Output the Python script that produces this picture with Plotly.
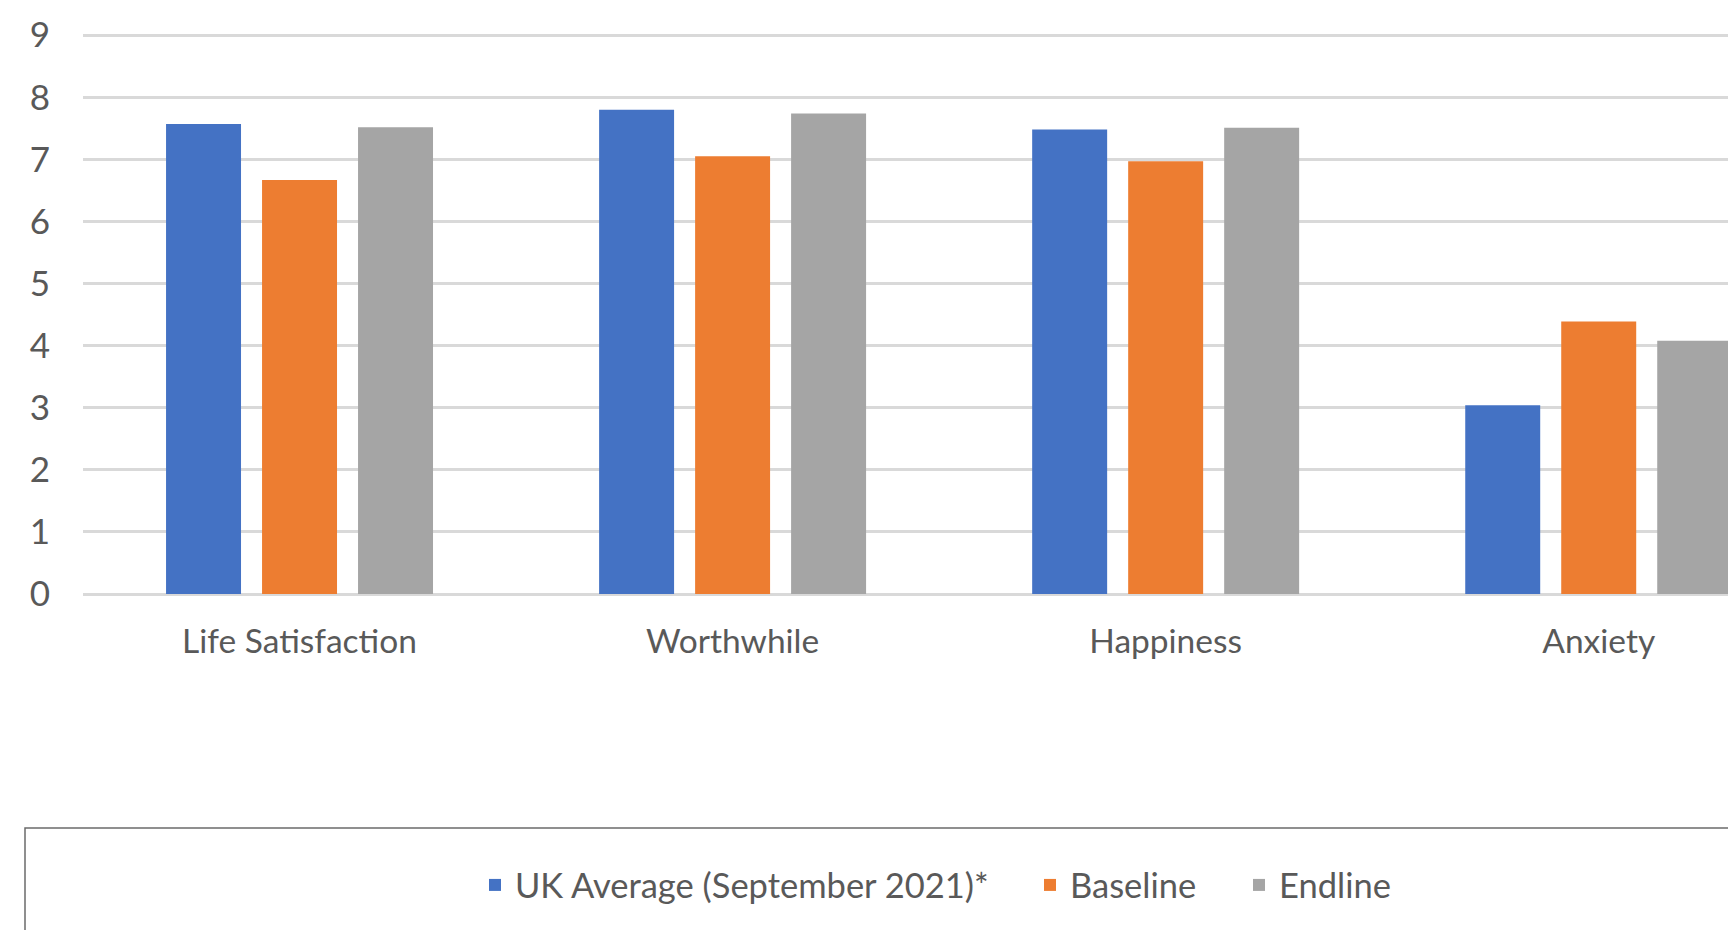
import plotly.graph_objects as go

categories = ["Life Satisfaction", "Worthwhile", "Happiness", "Anxiety"]
series_names = ["UK Average (September 2021)*", "Baseline", "Endline"]
uk_average = [7.57, 7.80, 7.48, 3.04]
baseline = [6.67, 7.05, 6.97, 4.39]
endline = [7.52, 7.74, 7.51, 4.08]
y_ticks = [0, 1, 2, 3, 4, 5, 6, 7, 8, 9]

colors = ["#4472C4", "#ED7D31", "#A5A5A5"]
FONT = "Lato"
TXT = "#595959"

# page body has an 8px margin; figure sized to fit the window without scrolling
OFF = 8
W, H = 1736 - OFF, 938 - 2 * OFF
ZERO_Y = 594  # window px of the zero line
ML, MR, MT = 83 - OFF, 0, 34 - OFF
MB = H - (ZERO_Y - OFF)
PW = W - ML - MR
PH = H - MT - MB

def px_x(p):  # p: window px
    return (p - OFF - ML) / PW

def px_y(p):
    return (ZERO_Y - p) / PH

fig = go.Figure()
legend_ids = ["legend", "legend2", "legend3"]
for name, vals, col, lg in zip(series_names, [uk_average, baseline, endline], colors, legend_ids):
    fig.add_trace(go.Bar(x=categories, y=vals, name=name, marker=dict(color=col, line=dict(width=0)),
                         legend=lg, showlegend=True))

legend_px = [475, 1030, 1239]
leg_common = dict(orientation="h", yanchor="middle", xanchor="left", y=px_y(885),
                  font=dict(family=FONT, size=34.5, color=TXT), bgcolor="rgba(0,0,0,0)")

fig.update_layout(
    width=W, height=H, showlegend=True,
    margin=dict(l=ML, r=MR, t=MT, b=MB, pad=0),
    paper_bgcolor="white", plot_bgcolor="white",
    barmode="group", bargap=0.335, bargroupgap=0.219,
    legend=dict(x=px_x(legend_px[0]), **leg_common),
    legend2=dict(x=px_x(legend_px[1]), **leg_common),
    legend3=dict(x=px_x(legend_px[2]), **leg_common),
    xaxis=dict(type="category", range=[-0.5, 3.317], showgrid=False, showline=False, ticks="",
               tickfont=dict(family=FONT, size=33.5, color=TXT), ticklabelstandoff=24),
    yaxis=dict(range=[0, 9.02], tickvals=y_ticks, showgrid=True, gridcolor="#D9D9D9", gridwidth=2.5,
               zeroline=True, zerolinecolor="#D9D9D9", zerolinewidth=2.5, showline=False, ticks="",
               tickfont=dict(family=FONT, size=35, color=TXT), ticklabelstandoff=32),
    shapes=[dict(type="rect", xref="paper", yref="paper", x0=px_x(25), x1=1.05,
                 y0=-0.8, y1=px_y(828), line=dict(color="#6B6B6B", width=1.5),
                 fillcolor="rgba(0,0,0,0)", layer="below")],
)

fig.write_html("out.html")
